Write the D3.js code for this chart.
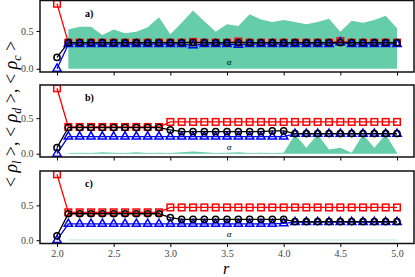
<!DOCTYPE html>
<html>
<head>
<meta charset="utf-8">
<script src="https://cdn.jsdelivr.net/npm/d3@7"></script>
<style>
  body { margin: 0; background: white; }
  svg { display: block; }
</style>
</head>
<body>
<div id="chart"></div>
<script>
// the r values along the x axis (one point every 0.1)
const rValues = [2.0, 2.1, 2.2, 2.3, 2.4, 2.5, 2.6, 2.7, 2.8, 2.9, 3.0, 3.1, 3.2, 3.3, 3.4, 3.5, 3.6, 3.7, 3.8, 3.9, 4.0, 4.1, 4.2, 4.3, 4.4, 4.5, 4.6, 4.7, 4.8, 4.9, 5.0]
// the alpha band starts one step later
const alphaR = rValues.slice(1)

// panel a) <rho_c>
const aRed   = [0.86, 0.345, 0.345, 0.345, 0.345, 0.345, 0.345, 0.345, 0.345, 0.345, 0.345, 0.345, 0.355, 0.345, 0.345, 0.345, 0.36, 0.345, 0.345, 0.345, 0.345, 0.345, 0.345, 0.345, 0.345, 0.365, 0.345, 0.345, 0.345, 0.345, 0.345]
const aBlack = [0.15, 0.345, 0.345, 0.345, 0.345, 0.345, 0.345, 0.345, 0.345, 0.345, 0.345, 0.345, 0.345, 0.345, 0.345, 0.345, 0.345, 0.345, 0.345, 0.345, 0.345, 0.345, 0.345, 0.345, 0.345, 0.345, 0.345, 0.345, 0.345, 0.345, 0.345]
const aBlue  = [0.0, 0.325, 0.325, 0.325, 0.325, 0.325, 0.325, 0.325, 0.325, 0.325, 0.325, 0.325, 0.31, 0.325, 0.325, 0.325, 0.315, 0.325, 0.325, 0.325, 0.325, 0.325, 0.325, 0.325, 0.325, 0.35, 0.325, 0.325, 0.325, 0.325, 0.325]
const aAlpha = [0.52, 0.557, 0.557, 0.447, 0.52, 0.47, 0.49, 0.55, 0.68, 0.457, 0.61, 0.77, 0.63, 0.49, 0.59, 0.566, 0.72, 0.65, 0.62, 0.645, 0.62, 0.59, 0.62, 0.66, 0.49, 0.635, 0.61, 0.645, 0.70, 0.535]

// panel b) <rho_d>
const bRed   = [0.92, 0.376, 0.376, 0.376, 0.376, 0.376, 0.376, 0.376, 0.376, 0.376, 0.447, 0.447, 0.447, 0.447, 0.447, 0.447, 0.447, 0.447, 0.447, 0.447, 0.447, 0.447, 0.447, 0.447, 0.447, 0.447, 0.447, 0.447, 0.447, 0.447, 0.447]
const bBlack = [0.085, 0.368, 0.368, 0.368, 0.368, 0.368, 0.368, 0.368, 0.368, 0.368, 0.334, 0.31, 0.31, 0.31, 0.31, 0.31, 0.31, 0.31, 0.31, 0.32, 0.32, 0.283, 0.283, 0.283, 0.283, 0.283, 0.283, 0.283, 0.283, 0.283, 0.283]
const bBlue  = [0.0, 0.24, 0.24, 0.24, 0.24, 0.24, 0.24, 0.24, 0.24, 0.24, 0.24, 0.24, 0.24, 0.24, 0.24, 0.24, 0.24, 0.24, 0.24, 0.24, 0.24, 0.28, 0.28, 0.28, 0.28, 0.28, 0.28, 0.28, 0.28, 0.28, 0.28]
const bAlpha = [0.01, 0.015, 0.01, 0.02, 0.015, 0.01, 0.02, 0.01, 0.015, 0.01, 0.02, 0.03, 0.02, 0.01, 0.015, 0.02, 0.01, 0.015, 0.01, 0.015, 0.27, 0.085, 0.27, 0.06, 0.085, 0.015, 0.27, 0.085, 0.27, 0.015]

// panel c) <rho_l>
const cRed   = [0.946, 0.40, 0.40, 0.40, 0.40, 0.40, 0.40, 0.40, 0.40, 0.40, 0.47, 0.47, 0.47, 0.47, 0.47, 0.47, 0.47, 0.47, 0.47, 0.47, 0.47, 0.47, 0.47, 0.47, 0.47, 0.47, 0.47, 0.47, 0.47, 0.47, 0.47]
const cBlack = [0.063, 0.38, 0.38, 0.38, 0.38, 0.38, 0.38, 0.38, 0.38, 0.38, 0.325, 0.30, 0.30, 0.30, 0.30, 0.30, 0.30, 0.30, 0.30, 0.30, 0.30, 0.267, 0.267, 0.267, 0.267, 0.267, 0.267, 0.267, 0.267, 0.267, 0.267]
const cBlue  = [0.0, 0.233, 0.233, 0.233, 0.233, 0.233, 0.233, 0.233, 0.233, 0.233, 0.233, 0.233, 0.233, 0.233, 0.233, 0.233, 0.233, 0.233, 0.233, 0.233, 0.243, 0.26, 0.26, 0.26, 0.26, 0.26, 0.26, 0.26, 0.26, 0.26, 0.26]
const cAlpha = [0.008, 0.008, 0.008, 0.008, 0.008, 0.008, 0.008, 0.008, 0.008, 0.008, 0.008, 0.008, 0.008, 0.008, 0.008, 0.008, 0.008, 0.008, 0.008, 0.008, 0.005, 0.005, 0.005, 0.005, 0.005, 0.005, 0.005, 0.005, 0.005, 0.005]

// tick labels
const panelLabels = ['a)', 'b)', 'c)']
const xTicks = [2.0, 2.5, 3.0, 3.5, 4.0, 4.5, 5.0]
const yTicks = [0.0, 0.5]

//set up a width and a height
const width = 415
const height = 277
const left = 40
const right = 414
// top and bottom of each panel
const panelTops = [0.5, 85, 171]
const panelBottoms = [72, 157, 243.5]

const svg = d3.select('div#chart').append('svg').attr('width', width).attr('height', height)

const serif = '"Liberation Serif", "DejaVu Serif", serif'

// x scale is shared by all three panels
const xScale = d3.scaleLinear().domain([1.85, 5.15]).range([left, right])

const panels = [
  {red: aRed, black: aBlack, blue: aBlue, alpha: aAlpha},
  {red: bRed, black: bBlack, blue: bBlue, alpha: bAlpha},
  {red: cRed, black: cBlack, blue: cBlue, alpha: cAlpha}
]

panels.forEach(function(p, i) {
  const top = panelTops[i]
  const bottom = panelBottoms[i]
  // matplotlib style 5% margins on y
  const yMax = d3.max([d3.max(p.red), d3.max(p.black), d3.max(p.blue), d3.max(p.alpha)])
  const yScale = d3.scaleLinear().domain([-0.05 * yMax, 1.05 * yMax]).range([bottom, top])

  const g = svg.append('g').attr('class', 'panel-' + i)

  // clip so nothing sticks out of the axes
  const clipId = 'clip' + i
  svg.append('clipPath').attr('id', clipId)
    .append('rect').attr('x', left).attr('y', top).attr('width', right - left).attr('height', bottom - top)
  const plot = g.append('g').attr('clip-path', 'url(#' + clipId + ')')

  // green alpha band
  const area = d3.area()
    .x((d, j) => xScale(alphaR[j]))
    .y0(yScale(0))
    .y1(d => yScale(d))
  plot.append('path')
    .datum(p.alpha)
    .attr('d', area)
    .attr('fill', '#66cdaa')

  const line = d3.line()
    .x((d, j) => xScale(rValues[j]))
    .y(d => yScale(d))

  // red squares
  plot.append('path').datum(p.red).attr('d', line)
    .attr('fill', 'none').attr('stroke', '#ff0000').attr('stroke-width', 1.3)
  plot.selectAll('rect.sq').data(p.red).enter().append('rect')
    .attr('class', 'sq')
    .attr('x', (d, j) => xScale(rValues[j]) - 3.3)
    .attr('y', d => yScale(d) - 3.3)
    .attr('width', 6.6).attr('height', 6.6)
    .attr('fill', 'none').attr('stroke', '#ff0000').attr('stroke-width', 1.5)

  // blue triangles
  plot.append('path').datum(p.blue).attr('d', line)
    .attr('fill', 'none').attr('stroke', '#0000ff').attr('stroke-width', 1.3)
  plot.selectAll('path.tri').data(p.blue).enter().append('path')
    .attr('class', 'tri')
    .attr('d', d3.symbol(d3.symbolTriangle, 30))
    .attr('transform', (d, j) => 'translate(' + xScale(rValues[j]) + ',' + yScale(d) + ')')
    .attr('fill', 'none').attr('stroke', '#0000ff').attr('stroke-width', 1.5)

  // black circles
  plot.append('path').datum(p.black).attr('d', line)
    .attr('fill', 'none').attr('stroke', '#000000').attr('stroke-width', 1.3)
  plot.selectAll('circle').data(p.black).enter().append('circle')
    .attr('cx', (d, j) => xScale(rValues[j]))
    .attr('cy', d => yScale(d))
    .attr('r', 3.1)
    .attr('fill', 'none').attr('stroke', '#000000').attr('stroke-width', 1.5)

  // axes
  const yAxis = d3.axisLeft(yScale).tickValues(yTicks).tickFormat(d3.format('.1f')).tickSize(3.5).tickPadding(3)
  const xAxis = d3.axisBottom(xScale).tickValues(xTicks).tickSize(3.5).tickPadding(3)
    .tickFormat(i === 2 ? d3.format('.1f') : '')
  g.append('g').attr('class', 'axis-y').attr('transform', 'translate(' + left + ' 0)').call(yAxis)
  g.append('g').attr('class', 'axis-x').attr('transform', 'translate(0 ' + bottom + ')').call(xAxis)
  g.selectAll('.domain').remove()
  g.selectAll('.tick line').attr('stroke', '#000').attr('stroke-width', 1)
  g.selectAll('.tick text').attr('font-family', serif).attr('font-size', '10px').attr('fill', '#444')

  // spines
  g.append('rect')
    .attr('x', left).attr('y', top).attr('width', right - left).attr('height', bottom - top)
    .attr('fill', 'none').attr('stroke', '#111').attr('stroke-width', 1.5)

  // panel letter
  g.append('text')
    .attr('x', 85).attr('y', top + 16)
    .attr('font-family', serif).attr('font-size', '10px').attr('font-weight', 'bold')
    .text(panelLabels[i])

  // alpha label
  g.append('text')
    .attr('x', 229).attr('y', bottom - 7)
    .attr('text-anchor', 'middle')
    .attr('font-family', serif).attr('font-size', '9px').attr('font-style', 'italic')
    .text('α')
})

// x label
svg.append('text')
  .attr('x', 226).attr('y', 273.5)
  .attr('text-anchor', 'middle')
  .attr('font-family', serif).attr('font-size', '16px').attr('font-style', 'italic')
  .text('r')

// y label, rotated, with subscripts
const yLabel = svg.append('text')
  .attr('transform', 'translate(17 114) rotate(-90)')
  .attr('text-anchor', 'middle')
  .attr('font-family', serif).attr('font-size', '18px')
const subs = ['l', 'd', 'c']
subs.forEach(function(s, k) {
  yLabel.append('tspan').text('< ')
  yLabel.append('tspan').attr('font-style', 'italic').text('ρ')
  yLabel.append('tspan').attr('font-style', 'italic').attr('font-size', '12px').attr('dy', 4).text(s)
  yLabel.append('tspan').attr('dy', -4).text(k < 2 ? ' >, ' : ' >')
})
</script>
</body>
</html>
